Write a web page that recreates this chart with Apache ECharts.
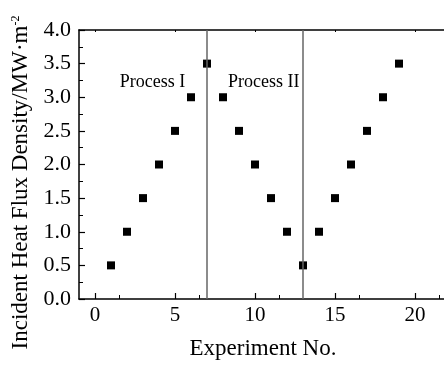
<!DOCTYPE html>
<html>
<head>
<meta charset="utf-8">
<script src="https://cdn.jsdelivr.net/npm/echarts@6/dist/echarts.min.js"></script>
<style>
html, body { margin: 0; padding: 0; background: #fff; }
#chart { width: 444px; height: 365px; }
</style>
</head>
<body>
<div id="chart"></div>
<script>
// experiment number and incident heat flux (MW/m2)
var expNo = [1, 2, 3, 4, 5, 6, 7, 8, 9, 10, 11, 12, 13, 14, 15, 16, 17, 18, 19];
var flux = [0.5, 1.0, 1.5, 2.0, 2.5, 3.0, 3.5, 3.0, 2.5, 2.0, 1.5, 1.0, 0.5, 1.0, 1.5, 2.0, 2.5, 3.0, 3.5];
var dividers = [7, 13];
var processNames = ['Process I', 'Process II'];
var processAt = [[3.6, 3.23], [10.55, 3.23]];

var font = '"Liberation Serif", "Times New Roman", serif';
var chart = echarts.init(document.getElementById('chart'));

var points = [];
for (var i = 0; i < expNo.length; i++) {
  points.push([expNo[i], flux[i]]);
}

var option = {
  animation: false,
  grid: {
    left: 79,
    top: 30,
    right: -3,
    bottom: 66,
    outerBoundsMode: 'none'
  },
  xAxis: [{
    type: 'value',
    min: -1,
    max: 22,
    interval: 5,
    position: 'bottom',
    name: 'Experiment No.',
    nameLocation: 'middle',
    nameGap: 38,
    nameTextStyle: { fontFamily: font, fontSize: 23, color: '#000' },
    axisLine: { show: true, onZero: false, lineStyle: { color: '#000', width: 1.5 } },
    axisTick: { show: true, inside: true, length: 6, lineStyle: { color: '#000', width: 1.2 },
      customValues: [0, 5, 10, 15, 20] },
    minorTick: { show: true, splitNumber: 2, length: 4, lineStyle: { color: '#000', width: 1 } },
    axisLabel: { fontFamily: font, fontSize: 21, color: '#000', margin: 6,
      customValues: [0, 5, 10, 15, 20] },
    splitLine: { show: false }
  }, {
    type: 'value',
    min: -1,
    max: 22,
    interval: 5,
    position: 'top',
    axisLine: { show: true, onZero: false, lineStyle: { color: '#000', width: 1.5 } },
    axisTick: { show: true, inside: true, length: 2, lineStyle: { color: '#000', width: 1 },
      customValues: [0, 5, 10, 15, 20] },
    minorTick: { show: false },
    axisLabel: { show: false },
    splitLine: { show: false }
  }],
  yAxis: {
    type: 'value',
    min: 0,
    max: 4,
    interval: 0.5,
    name: '{m|Incident Heat Flux Density/MW·m}{s|-2}',
    nameLocation: 'middle',
    nameGap: 36,
    nameTextStyle: {
      fontFamily: font, fontSize: 23, color: '#000', padding: [0, 36, 0, 0],
      rich: {
        m: { fontFamily: font, fontSize: 23, color: '#000' },
        s: { fontFamily: font, fontSize: 12, color: '#000', verticalAlign: 'top' }
      }
    },
    axisLine: { show: true, onZero: false, lineStyle: { color: '#000', width: 1.5 } },
    axisTick: { show: true, inside: true, length: 6, lineStyle: { color: '#000', width: 1.2 } },
    minorTick: { show: true, splitNumber: 2, length: 4, lineStyle: { color: '#000', width: 1 } },
    axisLabel: {
      fontFamily: font, fontSize: 22, color: '#000', margin: 8,
      formatter: function (v) { return v.toFixed(1); }
    },
    splitLine: { show: false }
  },
  series: [{
    type: 'scatter',
    data: points,
    symbol: 'rect',
    symbolSize: 8,
    itemStyle: { color: '#000', opacity: 1 },
    markLine: {
      silent: true,
      symbol: 'none',
      label: { show: false },
      lineStyle: { color: '#666', width: 1.5, type: 'solid', opacity: 1 },
      data: dividers.map(function (x) { return { xAxis: x }; })
    },
    markPoint: {
      silent: true,
      symbolSize: 0,
      label: { show: true, fontFamily: font, fontSize: 18, color: '#000', position: 'inside' },
      data: processNames.map(function (n, k) {
        return { coord: processAt[k], value: n, label: { formatter: n } };
      })
    }
  }]
};
chart.setOption(option);
</script>
</body>
</html>
